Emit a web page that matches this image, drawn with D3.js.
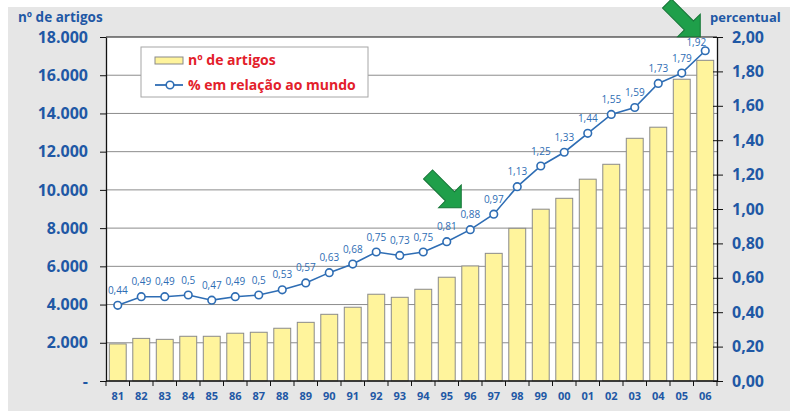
<!DOCTYPE html>
<html><head><meta charset="utf-8">
<script src="https://cdn.jsdelivr.net/npm/d3@7"></script>
<style>
body{margin:0;background:#fff}
svg{display:block}
text{font-family:"Open Sans",sans-serif}
</style>
</head><body>
<svg id="c" width="795" height="420"></svg>
<script>
const years = ["81","82","83","84","85","86","87","88","89","90","91","92","93","94","95","96","97","98","99","00","01","02","03","04","05","06"];
const articles = [1940,2230,2180,2340,2340,2500,2550,2760,3070,3490,3860,4540,4380,4800,5430,6020,6680,7990,8990,9560,10560,11340,12700,13280,15790,16780];
const percent = [0.44,0.49,0.49,0.5,0.47,0.49,0.5,0.53,0.57,0.63,0.68,0.75,0.73,0.75,0.81,0.88,0.97,1.13,1.25,1.33,1.44,1.55,1.59,1.73,1.79,1.92];
const leftTicks = [0,2000,4000,6000,8000,10000,12000,14000,16000,18000];
const rightTicks = [0,0.2,0.4,0.6,0.8,1.0,1.2,1.4,1.6,1.8,2.0];
const legendLabels = ["nº de artigos","% em relação ao mundo"];
const axisTitles = ["nº de artigos","percentual"];
const arrowYears = ["96","06"];

const svg = d3.select("#c");
const L = 106, R = 717, T = 37, B = 381;
const blue = "#1f58a5", lineBlue = "#2e6db4", red = "#e3202a";
const barFill = "#fff49c", barStroke = "#8a8a8a";

const loc = d3.formatLocale({decimal:",", thousands:".", grouping:[3], currency:["",""]});
const fmtL = v => v === 0 ? "-" : loc.format(",")(v);
const fmtR = loc.format(".2f");

// backgrounds
svg.append("rect").attr("x",8).attr("y",7).attr("width",782).attr("height",404).attr("fill","#e6e6e6");
svg.append("rect").attr("x",L).attr("y",T).attr("width",R-L).attr("height",B-T).attr("fill","#fff");

const x = d3.scaleBand().domain(years).range([L,R]).paddingInner(0.28).paddingOuter(0.14);
const yL = d3.scaleLinear().domain([0,18000]).range([B,T]);
const yR = d3.scaleLinear().domain([0,2]).range([B,T]);

// gridlines
svg.append("g").selectAll("line").data(leftTicks.filter(v=>v>0 && v<18000)).join("line")
  .attr("x1",L).attr("x2",R).attr("y1",d=>yL(d)).attr("y2",d=>yL(d))
  .attr("stroke","#8c8c8c").attr("stroke-width",1);

// bars
svg.append("g").selectAll("rect").data(articles).join("rect")
  .attr("x",(d,i)=>x(years[i])).attr("width",x.bandwidth())
  .attr("y",d=>yL(d)).attr("height",d=>B-yL(d))
  .attr("fill",barFill).attr("stroke",barStroke).attr("stroke-width",1);

// top border
svg.append("line").attr("x1",L).attr("x2",R).attr("y1",T).attr("y2",T).attr("stroke","#111").attr("stroke-width",1.2);

// left axis
const gl = svg.append("g").attr("transform",`translate(${L},0)`)
  .call(d3.axisLeft(yL).tickValues(leftTicks).tickSize(6).tickSizeOuter(0).tickPadding(12).tickFormat(fmtL));
gl.select(".domain").attr("stroke","#111").attr("stroke-width",1.3);
gl.selectAll(".tick line").attr("stroke","#111");
gl.selectAll("text").attr("fill",blue).attr("font-size",16).attr("font-weight",700);

// right axis
const gr = svg.append("g").attr("transform",`translate(${R},0)`)
  .call(d3.axisRight(yR).tickValues(rightTicks).tickSize(6).tickSizeOuter(0).tickPadding(9).tickFormat(fmtR));
gr.select(".domain").attr("stroke","#111").attr("stroke-width",1.3);
gr.selectAll(".tick line").attr("x1",-4).attr("stroke","#111");
gr.selectAll("text").attr("fill",blue).attr("font-size",16).attr("font-weight",700);

// bottom axis
svg.append("line").attr("x1",L).attr("x2",R).attr("y1",B).attr("y2",B).attr("stroke","#111").attr("stroke-width",1.3);
svg.append("g").selectAll("line").data(d3.range(years.length+1)).join("line")
  .attr("x1",i=>L + i*x.step()).attr("x2",i=>L + i*x.step())
  .attr("y1",B).attr("y2",B+5).attr("stroke","#111");
svg.append("g").selectAll("text").data(years).join("text")
  .attr("x",d=>x(d)+x.bandwidth()/2).attr("y",400)
  .attr("text-anchor","middle").attr("fill",blue).attr("font-size",11).attr("font-weight",700)
  .text(d=>d);

// line series
const cx = i => x(years[i]) + x.bandwidth()/2;
const line = d3.line().x((d,i)=>cx(i)).y(d=>yR(d));
svg.append("path").datum(percent).attr("d",line).attr("fill","none").attr("stroke",lineBlue).attr("stroke-width",1.6);
svg.append("g").selectAll("circle").data(percent).join("circle")
  .attr("cx",(d,i)=>cx(i)).attr("cy",d=>yR(d)).attr("r",3.8)
  .attr("fill","#fff").attr("stroke",lineBlue).attr("stroke-width",1.6);

// arrows
const h = 16, w = 6.4, len = 47;
const arrowPath = `M0,0 L${-h},${-h} L${-h},${-w} L${-len},${-w} L${-len},${w} L${-h},${w} L${-h},${h} Z`;
const tipOffsets = [[-9,-22],[-5,-14]];
arrowYears.forEach((yr,k)=>{
  const i = years.indexOf(yr);
  const tx = cx(i) + tipOffsets[k][0], ty = yR(percent[i]) + tipOffsets[k][1];
  svg.append("path").attr("d",arrowPath)
    .attr("transform",`translate(${tx},${ty}) rotate(45)`)
    .attr("fill","#1f9f4a").attr("stroke","#157536").attr("stroke-width",1);
});

// point labels (on top); the last one is kept inside the plot area
const last = percent.length - 1;
svg.append("g").selectAll("text").data(percent).join("text")
  .attr("x",(d,i)=>cx(i) - (i===last ? 9 : 0))
  .attr("y",(d,i)=>yR(d) - (i===last ? 4.5 : 11.5))
  .attr("text-anchor","middle").attr("fill",lineBlue).attr("font-size",10)
  .text(d=>String(d).replace(".",","));

// axis titles
svg.append("text").attr("x",18).attr("y",22).attr("fill",blue).attr("font-size",13.5).attr("font-weight",700).text(axisTitles[0]);
svg.append("text").attr("x",710).attr("y",22).attr("fill",blue).attr("font-size",13).attr("font-weight",700).text(axisTitles[1]);

// legend
const lg = svg.append("g");
lg.append("rect").attr("x",141).attr("y",47).attr("width",227).attr("height",50).attr("fill","#fff").attr("stroke","#a6a6a6");
lg.append("rect").attr("x",155).attr("y",57).attr("width",28).attr("height",7).attr("fill",barFill).attr("stroke",barStroke);
lg.append("line").attr("x1",155).attr("x2",183).attr("y1",85).attr("y2",85).attr("stroke",lineBlue).attr("stroke-width",1.8);
lg.append("circle").attr("cx",170).attr("cy",85).attr("r",3.8).attr("fill","#fff").attr("stroke",lineBlue).attr("stroke-width",1.6);
lg.selectAll("text").data(legendLabels).join("text")
  .attr("x",188).attr("y",(d,i)=>65 + i*25).attr("fill",red).attr("font-size",14).attr("font-weight",700).text(d=>d);
</script>
</body></html>
